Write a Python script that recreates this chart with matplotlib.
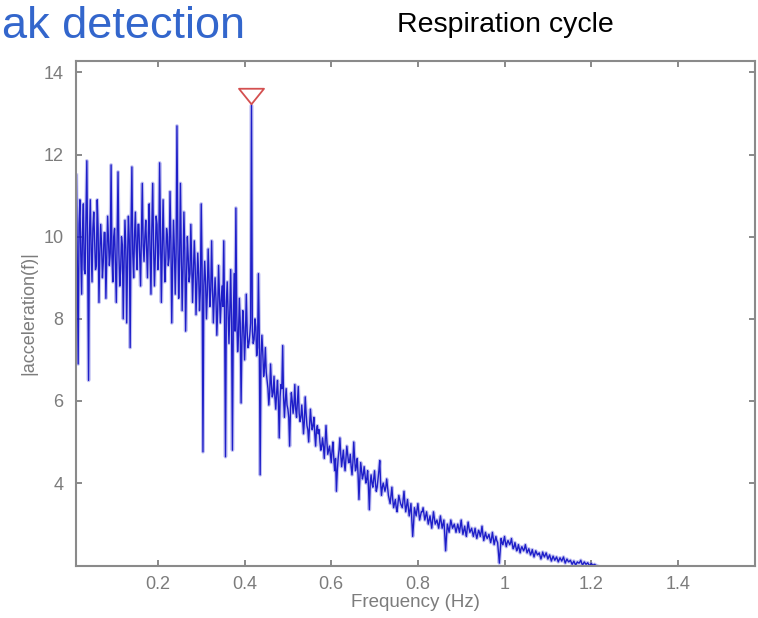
import numpy as np
import matplotlib
matplotlib.use("Agg")
import matplotlib.pyplot as plt
from matplotlib.path import Path

plt.rcParams['font.family'] = ['Liberation Sans', 'DejaVu Sans']

# Spectrum bins: first bin and spacing in Hz
F_START = 0.012
F_STEP = 0.002

# |acceleration(f)| per bin, low band 0.012 - 0.330 Hz
mag_low = [
    11.5, 9.4, 6.9, 10.3, 10.9, 9.6, 8.6, 10.1, 10.8, 9.2, 9.1, 10.4, 11.85, 9.5, 6.5, 10.0, 10.9, 9.7, 8.9, 10.2,
    10.6, 9.9, 9.2, 9.3, 10.9, 10.2, 8.4, 9.6, 10.3, 9.8, 9.0, 9.4, 10.1, 10.1, 8.5, 9.5, 10.5, 9.9, 9.3, 9.6,
    11.75, 9.5, 8.9, 10.0, 10.2, 9.3, 8.4, 9.9, 11.58, 9.6, 8.8, 9.2, 10.0, 9.8, 8.0, 9.4, 10.4, 9.7, 7.9, 9.5,
    10.5, 9.9, 7.3, 10.2, 11.7, 9.6, 9.0, 10.0, 10.6, 9.7, 9.2, 10.3, 10.3, 9.5, 8.8, 10.1, 11.3, 9.8, 9.4, 10.0,
    10.4, 9.7, 9.0, 10.1, 10.8, 9.6, 8.6, 10.2, 11.3, 9.8, 8.8, 9.5, 10.5, 10.3, 9.2, 9.6, 11.8, 10.0, 8.4, 9.7,
    10.9, 9.8, 8.9, 9.4, 10.2, 10.0, 9.3, 9.5, 11.1, 9.9, 7.9, 9.3, 10.4, 9.7, 8.6, 9.6, 12.7, 10.0, 8.5, 9.4,
    11.3, 9.6, 8.2, 9.2, 10.6, 9.7, 7.7, 9.0, 10.0, 9.5, 8.9, 9.1, 10.3, 9.4, 8.4, 9.2, 9.9, 9.3, 8.1, 8.9,
    9.6, 9.1, 8.2, 8.7, 10.8, 9.2, 4.76, 8.8, 9.4, 8.9, 8.0, 8.6, 9.7, 9.0, 8.3, 8.7, 9.9, 8.8, 7.9, 8.5,
]

# 0.332 - 0.610 Hz, includes the respiration peak
mag_mid = [
    9.0, 8.5, 7.6, 8.2, 9.3, 8.6, 7.9, 8.4, 8.8, 8.3, 9.9, 8.0, 4.64, 8.4, 8.9, 8.1, 7.4, 8.2, 9.2, 7.9,
    4.8, 8.0, 9.1, 7.7, 10.7, 8.1, 7.2, 7.6, 8.5, 7.9, 5.95, 7.5, 8.2, 7.8, 7.0, 7.6, 8.6, 7.7, 7.3, 7.4,
    7.6, 7.9, 13.2, 7.7, 7.4, 7.5, 8.0, 7.8, 7.1, 7.3, 9.1, 7.6, 4.2, 7.1, 7.6, 7.2, 6.6, 6.8, 7.3, 6.7,
    6.5, 6.3, 5.9, 6.2, 6.9, 6.4, 6.1, 6.2, 6.6, 6.1, 5.8, 6.2, 6.5, 6.0, 5.1, 6.1, 6.4, 6.3, 7.35, 6.1,
    5.6, 6.0, 6.3, 5.9, 5.8, 5.6, 4.9, 5.8, 6.2, 6.0, 5.7, 5.9, 6.4, 5.8, 5.6, 6.0, 6.35, 5.7, 5.5, 5.6,
    5.9, 5.6, 5.2, 5.5, 6.1, 5.7, 5.4, 5.3, 5.0, 5.4, 5.8, 5.5, 5.3, 5.4, 5.6, 5.2, 4.9, 5.3, 5.4, 5.2,
    5.3, 5.0, 4.8, 4.9, 5.1, 4.9, 4.6, 5.0, 5.4, 5.0, 4.7, 4.8, 4.9, 4.7, 4.5, 4.8, 5.0, 4.6, 4.3, 4.6,
]

# 0.612 - 1.220 Hz tail
mag_tail = [
    3.8, 4.3, 4.6, 4.8, 5.1, 4.7, 4.4, 4.6, 4.8, 4.5, 4.3, 4.6, 4.9, 4.7, 4.5, 4.5, 4.7, 4.4, 4.2, 4.5,
    5.0, 4.6, 4.3, 4.4, 4.6, 4.2, 3.6, 4.1, 4.5, 4.3, 4.1, 4.2, 4.4, 4.2, 4.0, 4.1, 4.3, 3.9, 3.35, 4.0,
    4.2, 4.0, 3.9, 4.1, 4.3, 4.0, 3.8, 3.9, 4.1, 4.3, 4.55, 4.0, 3.7, 3.9, 4.0, 3.9, 3.8, 3.9, 4.1, 3.9,
    3.7, 3.6, 3.5, 3.7, 3.9, 3.6, 3.4, 3.5, 3.6, 3.4, 3.3, 3.5, 3.7, 3.6, 3.5, 3.45, 3.4, 3.6, 3.8, 3.5,
    3.3, 3.45, 3.6, 3.4, 3.2, 3.35, 3.5, 3.1, 2.7, 3.0, 3.4, 3.3, 3.2, 3.35, 3.5, 3.3, 3.1, 3.2, 3.3, 3.3,
    3.4, 3.25, 3.1, 3.2, 3.3, 3.15, 3.0, 3.1, 3.2, 3.05, 2.9, 3.1, 3.3, 3.15, 3.0, 3.05, 3.1, 3.0, 2.9, 3.05,
    3.2, 3.05, 2.9, 3.0, 3.1, 2.75, 2.35, 2.7, 3.0, 2.9, 2.8, 2.95, 3.1, 3.0, 2.9, 2.95, 3.0, 2.9, 2.8, 2.9,
    3.0, 2.9, 2.8, 2.95, 3.1, 2.9, 2.75, 2.85, 2.95, 2.8, 2.7, 2.9, 3.05, 2.9, 2.8, 2.85, 2.9, 2.8, 2.7, 2.8,
    2.9, 2.75, 2.65, 2.75, 2.85, 2.8, 2.7, 2.8, 2.95, 2.75, 2.6, 2.7, 2.8, 2.7, 2.65, 2.7, 2.75, 2.65, 2.55, 2.65,
    2.8, 2.65, 2.5, 2.6, 2.7, 2.6, 2.55, 2.3, 2.05, 2.35, 2.65, 2.55, 2.5, 2.6, 2.7, 2.55, 2.45, 2.55, 2.6, 2.55,
    2.5, 2.55, 2.65, 2.5, 2.4, 2.45, 2.55, 2.45, 2.35, 2.4, 2.5, 2.4, 2.3, 2.4, 2.45, 2.4, 2.35, 2.4, 2.5, 2.4,
    2.3, 2.35, 2.4, 2.32, 2.25, 2.3, 2.38, 2.28, 2.2, 2.28, 2.35, 2.3, 2.25, 2.27, 2.3, 2.22, 2.15, 2.22, 2.32, 2.25,
    2.2, 2.25, 2.3, 2.22, 2.15, 2.2, 2.25, 2.17, 2.1, 2.16, 2.22, 2.17, 2.12, 2.16, 2.2, 2.14, 2.08, 2.13, 2.18, 2.14,
    2.1, 2.15, 2.2, 2.12, 2.05, 2.1, 2.15, 2.11, 2.08, 2.1, 2.12, 2.07, 2.02, 2.06, 2.1, 2.05, 2.0, 2.04, 2.08, 2.06,
    2.05, 2.08, 2.12, 2.05, 2.0, 2.04, 2.08, 2.05, 2.02, 2.04, 2.06, 2.02, 1.99, 2.01, 2.04, 2.02, 2.0, 2.01, 2.02, 2.0,
    1.99, 1.98, 1.97, 1.965, 1.96,
]

x_ticks = [0.2, 0.4, 0.6, 0.8, 1.0, 1.2, 1.4]
x_tick_labels = ['0.2', '0.4', '0.6', '0.8', '1', '1.2', '1.4']
y_ticks = [4, 6, 8, 10, 12, 14]
y_tick_labels = ['4', '6', '8', '10', '12', '14']
x_limits = (0.011, 1.578)
y_limits = (1.98, 14.28)
peak_marker_offset = 0.22

mag = np.array(mag_low + mag_mid + mag_tail)
freq = F_START + F_STEP * np.arange(mag.size)

fig = plt.figure(figsize=(7.58, 6.18), dpi=100)
fig.patch.set_facecolor('white')
W, H = 758, 618
ax = fig.add_axes([76 / W, 1 - 566 / H, (755 - 76) / W, (566 - 61) / H])

# soft halo plus a core stroke for the spectrum trace
ax.plot(freq, mag, color='#6a6ae0', lw=2.6, alpha=0.4)
ax.plot(freq, mag, color='#0c0cc4', lw=1.0, alpha=0.9)

# peak marker (downward triangle above the highest bin)
ipk = int(np.argmax(mag))
tri = Path([(-1.0, 0.62), (1.0, 0.62), (0.0, -0.62), (-1.0, 0.62)],
           [Path.MOVETO, Path.LINETO, Path.LINETO, Path.CLOSEPOLY])
ax.plot([freq[ipk]], [mag[ipk] + peak_marker_offset], linestyle='none',
        marker=tri, markersize=18, markerfacecolor='none',
        markeredgecolor='#d45050', markeredgewidth=1.3)

ax.set_xlim(*x_limits)
ax.set_ylim(*y_limits)
ax.set_xticks(x_ticks)
ax.set_xticklabels(x_tick_labels)
ax.set_yticks(y_ticks)
ax.set_yticklabels(y_tick_labels)

grey = '#7c7c7c'
for s in ax.spines.values():
    s.set_color('#8a8a8a')
    s.set_linewidth(1.5)
ax.tick_params(direction='in', length=4.5, width=1.1, color='#6a6a6a',
               top=True, right=True, labelsize=13, labelcolor=grey)
ax.tick_params(axis='x', pad=7)
ax.tick_params(axis='y', pad=9)

ax.set_xlabel('Frequency (Hz)', fontsize=13.5, color=grey)
ax.xaxis.set_label_coords(0.5, -0.056)
ax.set_ylabel('|acceleration(f)|', fontsize=13, color=grey)
ax.yaxis.set_label_coords(-0.0574, 0.5)

fig.text(245 / W, 1 - 38 / H, 'ak detection', ha='right', va='baseline',
         fontsize=32.5, color='#3366cc')
fig.text(397 / W, 1 - 32 / H, 'Respiration cycle', ha='left', va='baseline',
         fontsize=20.5, color='black')

fig.savefig('out.png', dpi=100, facecolor='white')
